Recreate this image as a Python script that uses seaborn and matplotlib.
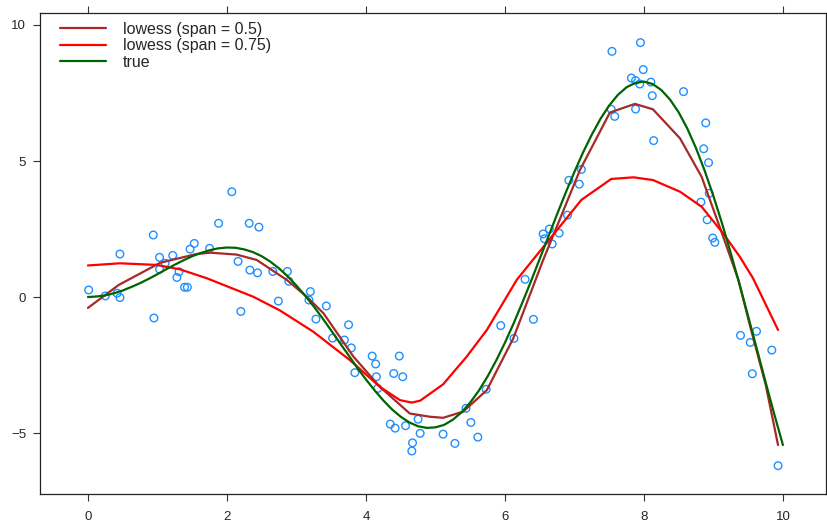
import matplotlib
matplotlib.use("Agg")
import matplotlib.pyplot as plt
import seaborn as sns

# Observed sample
obs_x = [0.01, 0.25, 0.42, 0.46, 0.46, 0.94, 0.95, 1.03, 1.03, 1.11, 1.22, 1.28, 1.31,
         1.39, 1.43, 1.47, 1.53, 1.75, 1.88, 2.07, 2.16, 2.20, 2.32, 2.33, 2.44, 2.46,
         2.66, 2.74, 2.87, 2.89, 3.18, 3.20, 3.28, 3.43, 3.75, 3.52, 3.69, 3.79, 3.84,
         4.09, 4.14, 4.15, 4.17, 4.48, 4.40, 4.53, 4.35, 4.42, 4.57, 4.75, 4.78, 4.67,
         4.66, 5.11, 5.28, 5.44, 5.51, 5.61, 5.73, 5.94, 6.13, 6.41, 6.29, 6.55, 6.64,
         6.57, 6.78, 6.68, 6.90, 6.92, 7.07, 7.10, 7.53, 7.58, 7.54, 7.95, 7.99, 7.82,
         7.88, 7.94, 8.10, 8.12, 7.88, 8.14, 8.57, 8.89, 8.86, 8.93, 8.94, 8.82, 8.91,
         8.99, 9.02, 9.39, 9.62, 9.53, 9.84, 9.56, 9.93]
obs_y = [0.26, 0.04, 0.14, -0.02, 1.58, 2.28, -0.77, 1.46, 1.02, 1.24, 1.53, 0.72, 0.93,
         0.36, 0.36, 1.76, 1.97, 1.79, 2.71, 3.87, 1.31, -0.53, 2.71, 0.99, 0.89, 2.57,
         0.94, -0.15, 0.94, 0.58, -0.11, 0.20, -0.81, -0.33, -1.02, -1.51, -1.58, -1.87,
         -2.78, -2.17, -2.46, -2.93, -3.36, -2.17, -2.81, -2.93, -4.67, -4.82, -4.73,
         -4.49, -5.01, -5.36, -5.66, -5.04, -5.38, -4.09, -4.61, -5.15, -3.39, -1.05,
         -1.52, -0.82, 0.65, 2.32, 2.50, 2.14, 2.35, 1.95, 3.01, 4.29, 4.15, 4.69, 6.90,
         6.64, 9.03, 9.35, 8.36, 8.05, 7.96, 7.83, 7.90, 7.40, 6.91, 5.75, 7.55, 6.40,
         5.45, 4.94, 3.81, 3.49, 2.84, 2.17, 2.01, -1.41, -1.26, -1.67, -1.95, -2.82,
         -6.20]

# Lowess fit, span = 0.5
lo50_x = [0.00, 0.44, 1.04, 1.56, 1.76, 2.14, 2.43, 2.86, 3.15, 3.39, 3.82, 4.20, 4.63,
          4.92, 5.11, 5.40, 5.74, 6.12, 6.55, 7.08, 7.51, 7.87, 8.13, 8.52, 8.83, 9.09,
          9.36, 9.53, 9.75, 9.93]
lo50_y = [-0.40, 0.44, 1.26, 1.58, 1.63, 1.56, 1.36, 0.63, 0.01, -0.60, -2.19, -3.30,
          -4.28, -4.40, -4.44, -4.21, -3.42, -1.52, 1.36, 4.67, 6.78, 7.10, 6.90, 5.83,
          4.42, 2.58, 0.63, -1.09, -3.20, -5.44]

# Lowess fit, span = 0.75
lo75_x = [0.00, 0.46, 0.99, 1.32, 1.71, 2.38, 2.76, 3.24, 3.77, 4.20, 4.49, 4.66, 4.78,
          5.11, 5.45, 5.74, 6.17, 6.41, 7.10, 7.53, 7.85, 8.13, 8.52, 8.83, 9.14, 9.38,
          9.57, 9.93]
lo75_y = [1.16, 1.24, 1.18, 1.02, 0.69, 0.01, -0.49, -1.27, -2.32, -3.30, -3.79, -3.88,
          -3.81, -3.21, -2.19, -1.21, 0.63, 1.39, 3.57, 4.34, 4.40, 4.30, 3.87, 3.32,
          2.34, 1.48, 0.69, -1.21]

# True curve, sampled every 0.125
true_x = [0.000, 0.125, 0.250, 0.375, 0.500, 0.625, 0.750, 0.875, 1.000, 1.125, 1.250,
          1.375, 1.500, 1.625, 1.750, 1.875, 2.000, 2.125, 2.250, 2.375, 2.500, 2.625,
          2.750, 2.875, 3.000, 3.125, 3.250, 3.375, 3.500, 3.625, 3.750, 3.875, 4.000,
          4.125, 4.250, 4.375, 4.500, 4.625, 4.750, 4.875, 5.000, 5.125, 5.250, 5.375,
          5.500, 5.625, 5.750, 5.875, 6.000, 6.125, 6.250, 6.375, 6.500, 6.625, 6.750,
          6.875, 7.000, 7.125, 7.250, 7.375, 7.500, 7.625, 7.750, 7.875, 8.000, 8.125,
          8.250, 8.375, 8.500, 8.625, 8.750, 8.875, 9.000, 9.125, 9.250, 9.375, 9.500,
          9.625, 9.750, 9.875, 10.000]
true_y = [0.00, 0.02, 0.06, 0.14, 0.24, 0.37, 0.51, 0.67, 0.84, 1.02, 1.19,
          1.35, 1.50, 1.62, 1.72, 1.79, 1.82, 1.81, 1.75, 1.65, 1.50, 1.30,
          1.05, 0.76, 0.42, 0.05, -0.35, -0.78, -1.23, -1.69, -2.14, -2.60, -3.03,
          -3.43, -3.80, -4.13, -4.40, -4.61, -4.75, -4.81, -4.79, -4.70, -4.51, -4.24,
          -3.88, -3.44, -2.92, -2.33, -1.68, -0.97, -0.21, 0.58, 1.40, 2.22, 3.04,
          3.84, 4.60, 5.32, 5.97, 6.55, 7.04, 7.43, 7.71, 7.87, 7.92, 7.83,
          7.61, 7.26, 6.79, 6.19, 5.47, 4.64, 3.71, 2.70, 1.61, 0.47, -0.71,
          -1.91, -3.12, -4.30, -5.44]

x_ticks = [0, 2, 4, 6, 8, 10]
y_ticks = [-5, 0, 5, 10]

sns.set_style("white")
plt.rcParams["font.family"] = ["Liberation Sans", "DejaVu Sans"]

fig = plt.figure(figsize=(8.27, 5.22), dpi=100)
ax = fig.add_axes([40 / 827, 1 - 494 / 522, 786 / 827, 481 / 522])

sns.scatterplot(x=obs_x, y=obs_y, ax=ax, marker="o", s=30, facecolor="none",
                edgecolor="#1E90FF", linewidth=1.0, zorder=2)

curves = [
    (lo50_x, lo50_y, "#A52A2A", "lowess (span = 0.5)"),
    (lo75_x, lo75_y, "#FF0000", "lowess (span = 0.75)"),
    (true_x, true_y, "#006400", "true"),
]
for cx, cy, col, lab in curves:
    sns.lineplot(x=cx, y=cy, ax=ax, color=col, linewidth=1.6, sort=False,
                 estimator=None, label=lab, zorder=3)

ax.set_xlim(-0.69, 10.62)
ax.set_ylim(-7.24, 10.44)
ax.set_xticks(x_ticks)
ax.set_yticks(y_ticks)
ax.set_xticklabels([str(v) for v in x_ticks])
ax.set_yticklabels([str(v).replace("-", "\u2212") for v in y_ticks])
ax.tick_params(direction="out", length=5, width=0.8, color="#333333",
               bottom=True, left=True, top=True, right=True,
               labelbottom=True, labelleft=True, labeltop=False, labelright=False,
               labelsize=9.5)
ax.tick_params(axis="x", pad=7)
ax.tick_params(axis="y", pad=5)
for side in ax.spines.values():
    side.set_color("#222222")
    side.set_linewidth(0.9)
ax.set_xlabel("")
ax.set_ylabel("")

ax.legend(loc="upper left", bbox_to_anchor=(0.025, 0.982), frameon=False,
          fontsize=11.5, handlelength=2.9, handletextpad=1.05, labelspacing=0.1,
          borderaxespad=0, borderpad=0)

fig.savefig("out.png", dpi=100)
